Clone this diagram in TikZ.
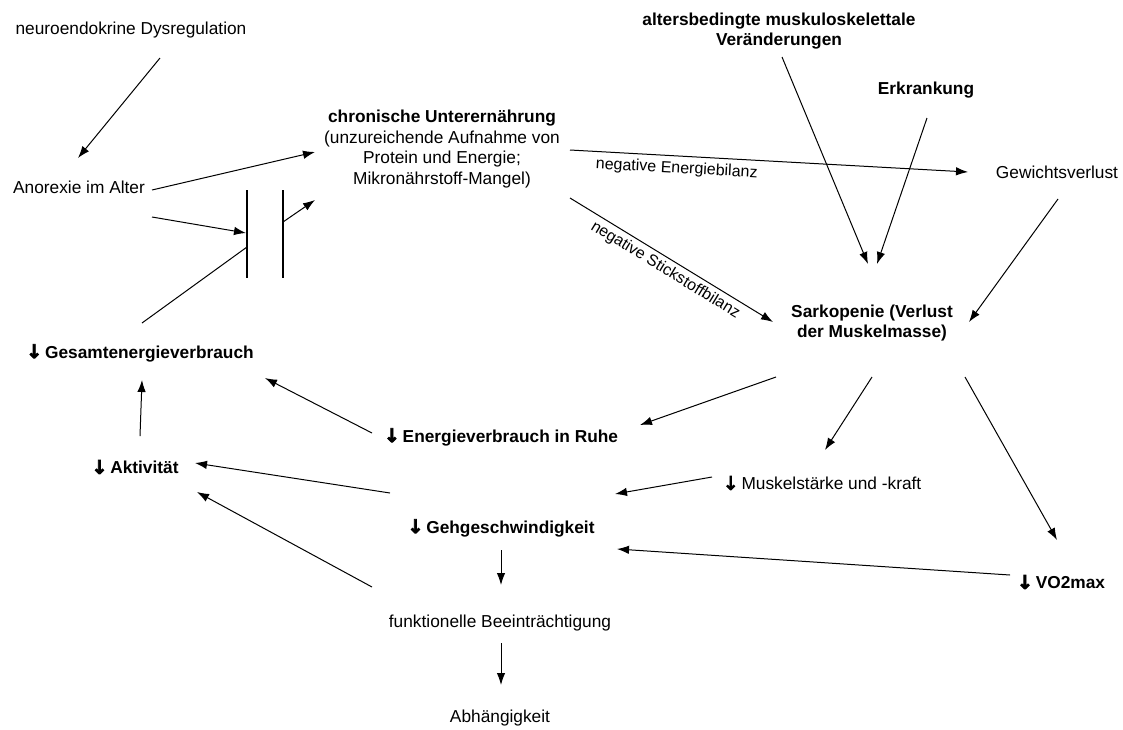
\documentclass[tikz,border=0pt]{standalone}
\usepackage{fontspec}
\setmainfont{Liberation Sans}
\newfontfamily\symf[FakeBold=4]{DejaVu Sans}
\usetikzlibrary{arrows.meta}
\newcommand{\dn}{{\symf\fontsize{19}{19}\selectfont ↓}\,}
\begin{document}
\begin{tikzpicture}[x=1pt,y=-1pt,
  txt/.style={inner sep=0pt,font=\fontsize{17.3}{20.5}\selectfont,align=center},
  btxt/.style={txt,font=\fontsize{17.3}{20.5}\selectfont\bfseries},
  lbl/.style={inner sep=0pt,font=\fontsize{16}{18}\selectfont},
  arr/.style={line width=1pt,-{Latex[length=12pt,width=8.5pt]}},
  ln/.style={line width=1pt},
  barl/.style={line width=1.2pt}]
\useasboundingbox[fill=white] (0,0) rectangle (1123,729);
% nodes
\node[txt]  (neuro)  at (131,30)  {neuroendokrine Dysregulation};
\node[txt]  (anor)   at (79,187)  {Anorexie im Alter};
\node[txt]  (chron)  at (442,149) {\textbf{chronische Unterernährung}\\(unzureichende Aufnahme von\\Protein und Energie;\\Mikronährstoff-Mangel)};
\node[btxt] (alters) at (779,31)  {altersbedingte muskuloskelettale\\Veränderungen};
\node[btxt] (erk)    at (926,90)  {Erkrankung};
\node[txt]  (gew)    at (1057,172){Gewichtsverlust};
\node[btxt] (sark)   at (872,323) {Sarkopenie (Verlust\\der Muskelmasse)};
\node[btxt] (gesamt) at (140,353) {\dn Gesamtenergieverbrauch};
\node[btxt] (ruhe)   at (501,437) {\dn Energieverbrauch in Ruhe};
\node[btxt] (akt)    at (135,467) {\dn Aktivität};
\node[txt]  (muskel) at (822,483) {\dn Muskelstärke und -kraft};
\node[btxt] (geh)    at (501,528) {\dn Gehgeschwindigkeit};
\node[btxt] (vo2)    at (1061,582){\dn VO2max};
\node[txt]  (funk)   at (500,623) {funktionelle Beeinträchtigung};
\node[txt]  (abh)    at (500,718) {Abhängigkeit};
% bars
\coordinate (bar1) at (247,234);
\coordinate (bar2) at (283,234);
\draw[barl] ([shift={(0,-44)}]bar1) -- ([shift={(0,44)}]bar1);
\draw[barl] ([shift={(0,-44)}]bar2) -- ([shift={(0,44)}]bar2);
% connectors
\draw[arr] ([shift={(29,28)}]neuro.center) -- ([shift={(-1,-29)}]anor.center);
\draw[arr] ([shift={(73,3)}]anor.center) -- ([shift={(-127,3)}]chron.center);
\draw[arr] ([shift={(73,30)}]anor.center) -- ([shift={(-1,-1)}]bar1);
\draw[ln]  ([shift={(2,-30)}]gesamt.center) -- ([shift={(0,13)}]bar1);
\draw[arr] ([shift={(0,-12)}]bar2) -- ([shift={(-127,51)}]chron.center);
\draw[arr] ([shift={(128,1)}]chron.center) -- node[lbl,pos=0.27,below=5pt,sloped]{negative Energiebilanz} ([shift={(-89,0)}]gew.center);
\draw[arr] ([shift={(128,49)}]chron.center) -- node[lbl,pos=0.5,below=4pt,sloped]{negative Stickstoffbilanz} ([shift={(-99,-1)}]sark.center);
\draw[arr] ([shift={(3,26)}]alters.center) -- ([shift={(-4,-59)}]sark.center);
\draw[arr] ([shift={(1,28)}]erk.center) -- ([shift={(5,-59)}]sark.center);
\draw[arr] ([shift={(1,27)}]gew.center) -- ([shift={(97,-1)}]sark.center);
\draw[arr] ([shift={(-96,54)}]sark.center) -- ([shift={(139,-12)}]ruhe.center);
\draw[arr] ([shift={(0,54)}]sark.center) -- ([shift={(3,-33)}]muskel.center);
\draw[arr] ([shift={(93,54)}]sark.center) -- ([shift={(-4,-42)}]vo2.center);
\draw[arr] ([shift={(-129,-4)}]ruhe.center) -- ([shift={(125,25)}]gesamt.center);
\draw[arr] ([shift={(5,-31)}]akt.center) -- ([shift={(2,27)}]gesamt.center);
\draw[arr] ([shift={(-111,-35)}]geh.center) -- ([shift={(60,-4)}]akt.center);
\draw[arr] ([shift={(-128,-36)}]funk.center) -- ([shift={(62,25)}]akt.center);
\draw[arr] ([shift={(-110,-6)}]muskel.center) -- ([shift={(114,-34)}]geh.center);
\draw[arr] ([shift={(-51,-7)}]vo2.center) -- ([shift={(116,21)}]geh.center);
\draw[arr] ([shift={(0,22)}]geh.center) -- ([shift={(1,-38)}]funk.center);
\draw[arr] ([shift={(1,20)}]funk.center) -- ([shift={(1,-33)}]abh.center);
\end{tikzpicture}
\end{document}
